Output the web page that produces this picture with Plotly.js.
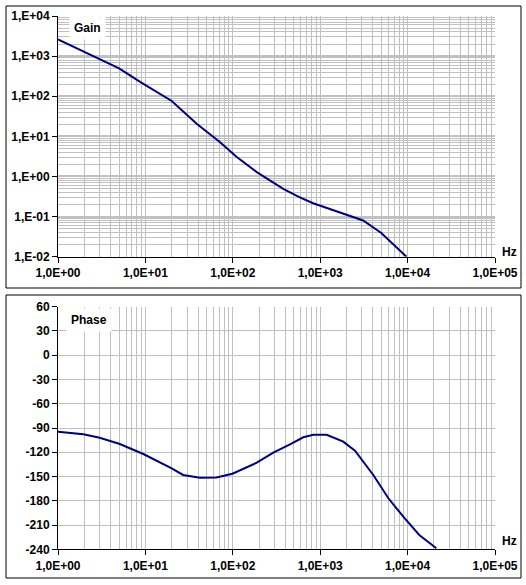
<!DOCTYPE html>
<html>
<head>
<meta charset="utf-8">
<script src="https://cdn.plot.ly/plotly-3.0.1.min.js"></script>
<style>html,body{margin:0;padding:0;background:#fff;}#chart{width:526px;height:585px;}</style>
</head>
<body>
<div id="chart"></div>
<script>
// ---- data ----
var gainFreq = [1, 1.8, 3, 5, 8.7, 20, 38.6, 71, 111, 188, 378, 577, 830, 1283, 2400, 3100, 5000, 9700];
var gainVals = [2600, 1410, 826, 492, 228, 76, 20.7, 7.2, 3.04, 1.28, 0.49, 0.304, 0.215, 0.156, 0.1, 0.08, 0.039, 0.01];
var phaseFreq = [1, 1.95, 3, 5.1, 9.6, 20, 27, 42, 65, 99, 188, 291, 451, 641, 834, 1186, 1836, 2500, 4050, 6030, 8930, 13600, 21300];
var phaseVals = [-94.6, -97.8, -102, -109.8, -122.5, -139.8, -148.1, -151.4, -151.2, -146.5, -132.9, -120.5, -110.2, -101.5, -98.3, -98.3, -106.9, -118, -148.1, -176.9, -199.7, -222.3, -238.8];

var xTickVals = [1, 10, 100, 1000, 10000, 100000];
var xTickText = ['1,0E+00', '1,0E+01', '1,0E+02', '1,0E+03', '1,0E+04', '1,0E+05'];
var gainTickVals = [0.01, 0.1, 1, 10, 100, 1000, 10000];
var gainTickText = ['1,E-02', '1,E-01', '1,E+00', '1,E+01', '1,E+02', '1,E+03', '1,E+04'];
var phaseTickVals = [-240, -210, -180, -150, -120, -90, -60, -30, 0, 30, 60];
var phaseTickText = ['-240', '-210', '-180', '-150', '-120', '-90', '-60', '-30', '0', '30', '60'];

// minor grid positions (2..9 per decade)
function minors(lo, hi) {
  var out = [];
  for (var e = lo; e < hi; e++) {
    for (var d = 2; d <= 9; d++) out.push(d * Math.pow(10, e));
  }
  return out;
}
var xMinor = minors(0, 5);
var gMinor = minors(-2, 4);

var W = 526, H = 585;
function px(x) { return x / W; }
function py(y) { return 1 - y / H; }

var tickFont = {family: 'Liberation Sans, Arial, sans-serif', size: 12, color: '#000', weight: 'bold'};
var gridCol = '#c0c0c0';
var lineCol = '#000080';

var xCommon = {
  type: 'log',
  range: [0, 5],
  tickmode: 'array',
  tickvals: xTickVals,
  ticktext: xTickText,
  ticks: 'outside',
  ticklen: 5,
  tickcolor: '#000',
  showline: true,
  linecolor: '#000',
  linewidth: 1,
  showgrid: true,
  gridcolor: gridCol,
  gridwidth: 1,
  zeroline: false,
  tickfont: tickFont,
  minor: {tickmode: 'array', tickvals: xMinor, showgrid: true, gridcolor: gridCol, gridwidth: 1, ticks: ''},
  domain: [px(58), px(495)],
  fixedrange: true
};

var layout = {
  width: W,
  height: H,
  margin: {l: 0, r: 0, t: 0, b: 0},
  paper_bgcolor: '#fff',
  plot_bgcolor: '#fff',
  showlegend: false,
  xaxis: Object.assign({}, xCommon, {anchor: 'y'}),
  yaxis: {
    type: 'log',
    range: [-2, 4],
    tickmode: 'array',
    tickvals: gainTickVals,
    ticktext: gainTickText,
    ticks: 'outside',
    ticklen: 5,
    tickcolor: '#000',
    showline: true,
    linecolor: '#000',
    linewidth: 1,
    showgrid: true,
    gridcolor: gridCol,
    gridwidth: 2,
    zeroline: false,
    tickfont: tickFont,
    minor: {tickmode: 'array', tickvals: gMinor, showgrid: true, gridcolor: gridCol, gridwidth: 1, ticks: ''},
    domain: [py(256.7), py(16)],
    anchor: 'x',
    fixedrange: true
  },
  xaxis2: Object.assign({}, xCommon, {anchor: 'y2'}),
  yaxis2: {
    range: [-240, 60],
    tickmode: 'array',
    tickvals: phaseTickVals,
    ticktext: phaseTickText,
    ticks: 'outside',
    ticklen: 5,
    tickcolor: '#000',
    showline: true,
    linecolor: '#000',
    linewidth: 1,
    showgrid: true,
    gridcolor: gridCol,
    gridwidth: 1,
    zeroline: false,
    tickfont: tickFont,
    domain: [py(549.3), py(306.7)],
    anchor: 'x2',
    fixedrange: true
  },
  shapes: [
    {type: 'rect', xref: 'paper', yref: 'paper', x0: px(6), x1: px(521), y0: py(288), y1: py(6), line: {color: '#000', width: 1}, layer: 'below'},
    {type: 'rect', xref: 'paper', yref: 'paper', x0: px(6), x1: px(521), y0: py(578), y1: py(295), line: {color: '#000', width: 1}, layer: 'below'}
  ],
  annotations: [
    {text: 'Gain', xref: 'paper', yref: 'paper', x: px(69), y: py(28), xanchor: 'left', yanchor: 'middle', showarrow: false, bgcolor: '#fff', borderpad: 4, font: tickFont},
    {text: 'Phase', xref: 'paper', yref: 'paper', x: px(66), y: py(320), xanchor: 'left', yanchor: 'middle', showarrow: false, bgcolor: '#fff', borderpad: 4, font: tickFont},
    {text: 'Hz', xref: 'paper', yref: 'paper', x: px(500), y: py(252), xanchor: 'left', yanchor: 'middle', showarrow: false, font: tickFont},
    {text: 'Hz', xref: 'paper', yref: 'paper', x: px(500), y: py(541), xanchor: 'left', yanchor: 'middle', showarrow: false, font: tickFont}
  ]
};

var data = [
  {x: gainFreq, y: gainVals, type: 'scatter', mode: 'lines', line: {color: lineCol, width: 2}, xaxis: 'x', yaxis: 'y', hoverinfo: 'skip'},
  {x: phaseFreq, y: phaseVals, type: 'scatter', mode: 'lines', line: {color: lineCol, width: 2}, xaxis: 'x2', yaxis: 'y2', hoverinfo: 'skip'}
];

Plotly.newPlot('chart', data, layout, {staticPlot: true, displayModeBar: false});
</script>
</body>
</html>
